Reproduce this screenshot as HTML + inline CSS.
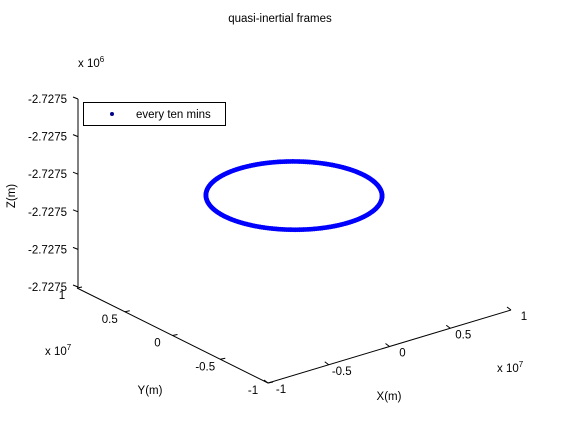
<!DOCTYPE html>
<html><head><meta charset="utf-8"><style>
body{margin:0;background:#fff}
svg text{font-family:"Liberation Sans",Arial,sans-serif;font-size:11.5px;fill:#000}
</style></head><body>
<svg width="561" height="420" viewBox="0 0 561 420">
<rect width="561" height="420" fill="#fff"/>
<text x="280" y="22" text-anchor="middle">quasi-inertial frames</text>
<g id="axes" stroke="#000" stroke-width="1" fill="none"></g>
<g id="labels"></g>
<g id="series"></g>
<g>
<rect x="83.5" y="102.5" width="142" height="23" fill="#fff" stroke="#000"/>
<circle cx="112" cy="114" r="2" fill="#00008b"/>
<text x="136" y="118">every ten mins</text>
</g>
<text x="78" y="67">x 10<tspan dy="-5" font-size="8">6</tspan></text>
<text x="45" y="355">x 10<tspan dy="-5" font-size="8">7</tspan></text>
<text x="497" y="372">x 10<tspan dy="-5" font-size="8">7</tspan></text>
<text transform="translate(15,196) rotate(-90)" text-anchor="middle">Z(m)</text>
<text x="150" y="394" text-anchor="middle">Y(m)</text>
<text x="389" y="400" text-anchor="middle">X(m)</text>
</svg>
<script>
const xTicks=[-1,-0.5,0,0.5,1];
const yTicks=[-1,-0.5,0,0.5,1];
const zTicks=[0,1,2,3,4,5];
const zTickLabels=["-2.7275","-2.7275","-2.7275","-2.7275","-2.7275","-2.7275"];
const orbitRadius=[0.57];
const orbitHeight=[2.75];
const orbitSamples=[260];
const NS="http://www.w3.org/2000/svg";
const O=[294,299];
function px(x,y,z){return [O[0]+x*121.5-y*95.5, O[1]-x*36.5-y*47.5-z*37.6];}
const axes=document.getElementById('axes'),labels=document.getElementById('labels'),series=document.getElementById('series');
function line(p,q,name){const l=document.createElementNS(NS,'line');l.setAttribute('x1',p[0]);l.setAttribute('y1',p[1]);l.setAttribute('x2',q[0]);l.setAttribute('y2',q[1]);


axes.appendChild(l);}
function text(x,y,s,anchor,name){const t=document.createElementNS(NS,'text');t.setAttribute('x',x);t.setAttribute('y',y);t.setAttribute('text-anchor',anchor);t.textContent=s;


labels.appendChild(t);}
line(px(-1,-1,0),px(1,-1,0),'x-axis-line');
line(px(-1,1,0),px(-1,-1,0),'y-axis-line');
const zb=px(-1,1,0);
line([zb[0]+1,zb[1]-1],[zb[0]+1,zb[1]-1-5*37.6],'z-axis-line');
xTicks.forEach(v=>{const p=px(v,-1,0);line(p,[p[0]-4,p[1]-3],'x-tick');text(p[0]+13,p[1]+10,String(v),'middle','x-tick-label');});
yTicks.forEach(v=>{const p=px(-1,v,0);line(p,[p[0]+5,p[1]-1],'y-tick');text(p[0]-15,p[1]+11,String(v),'middle','y-tick-label');});
zTicks.forEach((v,i)=>{const p=px(-1,1,v);line([p[0]+1,p[1]-1],[p[0]-4,p[1]-3],'z-tick');text(p[0]-10,p[1]+3,zTickLabels[i],'end','z-tick-label');});
const n=orbitSamples[0];
for(let i=0;i<n;i++){const a=2*Math.PI*i/n;const p=px(orbitRadius[0]*Math.cos(a),orbitRadius[0]*Math.sin(a),orbitHeight[0]);
const c=document.createElementNS(NS,'circle');c.setAttribute('cx',p[0]);c.setAttribute('cy',p[1]);c.setAttribute('r',2.4);c.setAttribute('fill','#0000ff');


series.appendChild(c);}
</script>
</body></html>
